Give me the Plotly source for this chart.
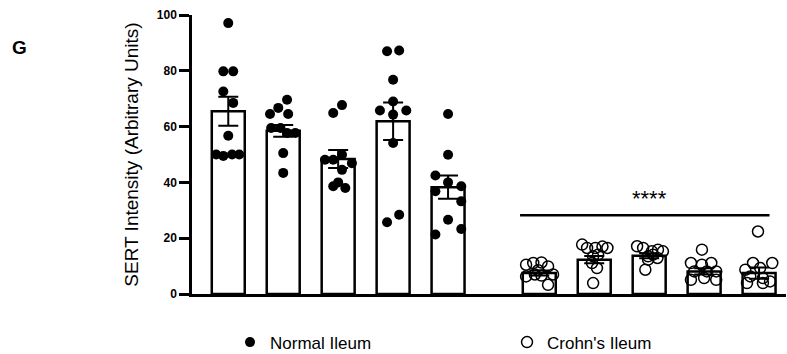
import plotly.graph_objects as go

# ---- data ----
normal_means = [65.5, 58.5, 48.4, 61.9, 38.3]
normal_sem = [5.2, 2.1, 3.2, 6.7, 4.2]
crohn_means = [7.5, 12.3, 13.7, 8.1, 7.5]
crohn_sem = [0.9, 1.3, 0.9, 1.1, 2.0]

normal_points = [
    [97.1, 79.8, 79.8, 72.6, 68.5, 56.7, 50.0, 49.5, 50.0, 50.0],
    [69.6, 66.7, 64.5, 64.5, 59.5, 59.5, 57.7, 57.7, 50.5, 43.4],
    [67.7, 64.9, 49.9, 48.1, 48.1, 46.9, 44.5, 40.0, 38.6, 38.0],
    [87.0, 87.3, 76.8, 69.0, 65.8, 65.8, 64.3, 54.1, 25.7, 28.4],
    [64.5, 49.9, 42.5, 40.0, 36.8, 38.6, 33.2, 26.6, 21.3, 23.3],
]
crohn_points = [
    [10.5, 11.1, 11.3, 9.9, 6.3, 7.0, 6.6, 3.3, 7.0, 8.5],
    [17.7, 16.5, 16.5, 17.0, 16.5, 13.5, 14.1, 11.1, 9.3, 3.9],
    [17.1, 16.5, 15.3, 15.9, 15.3, 14.1, 13.5, 12.9, 12.3, 8.7],
    [15.9, 11.1, 10.5, 11.1, 8.1, 8.1, 8.1, 5.1, 5.7, 5.1],
    [22.4, 11.1, 11.1, 8.7, 9.3, 6.3, 5.7, 4.5, 3.9, 3.9],
]
significance = "****"
sig_level = 28.2
y_title = "SERT Intensity (Arbitrary Units)"
legend_names = ["Normal Ileum", "Crohn's Ileum"]
y_ticks = [0, 20, 40, 60, 80, 100]

# ---- layout (positions / jitter, not data) ----
normal_pos = [0, 1, 2, 3, 4]
crohn_pos = [5.66 + i for i in range(5)]
normal_jitter = [
    [0.0, -0.09, 0.09, -0.09, 0.09, 0.0, -0.22, -0.09, 0.07, 0.2],
    [0.07, -0.09, -0.24, 0.09, -0.22, -0.05, 0.07, 0.22, 0.0, 0.0],
    [0.07, -0.09, 0.07, -0.09, -0.24, 0.25, 0.07, 0.0, -0.09, 0.13],
    [-0.11, 0.11, 0.0, 0.0, -0.24, 0.24, 0.0, 0.0, -0.11, 0.11],
    [0.0, 0.0, -0.23, 0.0, -0.23, 0.24, 0.24, 0.0, -0.23, 0.24],
]
crohn_jitter = [
    [-0.24, -0.11, 0.04, 0.16, -0.24, -0.08, 0.04, 0.16, 0.25, -0.02],
    [-0.22, -0.13, 0.02, 0.15, 0.24, -0.02, 0.07, -0.04, 0.05, -0.02],
    [-0.22, -0.11, 0.05, 0.16, 0.25, 0.07, -0.02, 0.15, -0.02, -0.07],
    [-0.04, -0.24, -0.04, 0.13, -0.18, 0.05, 0.22, -0.24, 0.0, 0.22],
    [-0.02, -0.11, 0.24, -0.25, 0.02, -0.16, 0.07, 0.2, -0.22, 0.07],
]

FONT = "Liberation Sans, Arial, sans-serif"
fig = go.Figure()

bar_style = dict(
    marker=dict(color="white", line=dict(color="black", width=2.5)),
    width=0.6,
    showlegend=False,
    hoverinfo="skip",
)
err_style = dict(type="data", color="black", thickness=2, width=10, visible=True)

fig.add_trace(go.Bar(x=normal_pos, y=normal_means,
                     error_y=dict(array=normal_sem, **err_style), **bar_style))
fig.add_trace(go.Bar(x=crohn_pos, y=crohn_means,
                     error_y=dict(array=crohn_sem, **err_style), **bar_style))

nx, ny = [], []
for p, pts, jit in zip(normal_pos, normal_points, normal_jitter):
    for v, j in zip(pts, jit):
        nx.append(p + j)
        ny.append(v)
cx, cy = [], []
for p, pts, jit in zip(crohn_pos, crohn_points, crohn_jitter):
    for v, j in zip(pts, jit):
        cx.append(p + j)
        cy.append(v)

fig.add_trace(go.Scatter(x=nx, y=ny, mode="markers", name=legend_names[0],
                         marker=dict(symbol="circle", size=10, color="black")))
fig.add_trace(go.Scatter(x=cx, y=cy, mode="markers", name=legend_names[1],
                         marker=dict(symbol="circle-open", size=11, color="black",
                                     line=dict(width=1.5, color="black"))))

# significance line and stars
fig.add_shape(type="line", xref="x", yref="y",
              x0=crohn_pos[0] - 0.35, x1=crohn_pos[-1] + 0.19,
              y0=sig_level, y1=sig_level,
              line=dict(color="black", width=2.5))
fig.add_annotation(x=sum(crohn_pos) / len(crohn_pos), y=sig_level, xref="x", yref="y",
                   text=significance, showarrow=False, yanchor="bottom",
                   font=dict(family=FONT, size=22, color="black"), yshift=2)

# panel letter
fig.add_annotation(x=-0.29, y=0.885, xref="paper", yref="paper", text="<b>G</b>",
                   showarrow=False, xanchor="center", yanchor="middle",
                   font=dict(family=FONT, size=19, color="black"))

fig.update_layout(
    width=787, height=354,
    margin=dict(l=192, r=1, t=15, b=60, autoexpand=False),
    plot_bgcolor="white", paper_bgcolor="white",
    barmode="overlay",
    font=dict(family=FONT, color="black"),
    xaxis=dict(range=[-0.66, 10.15], showline=True, linecolor="black", linewidth=2.5,
               showticklabels=False, ticks="", showgrid=False, zeroline=False),
    yaxis=dict(range=[0, 100], showline=True, linecolor="black", linewidth=2.5,
               tickvals=y_ticks, ticktext=[f"<b>{t}</b>" for t in y_ticks],
               ticks="outside", ticklen=10, tickwidth=2.5, tickcolor="black",
               tickfont=dict(family=FONT, size=12, color="black"),
               showgrid=False, zeroline=False,
               title=dict(text=y_title, font=dict(family=FONT, size=19, color="black"),
                          standoff=14)),
    legend=dict(orientation="h", x=0.064, y=-0.174, xanchor="left", yanchor="middle",
                entrywidth=232, entrywidthmode="pixels",
                font=dict(family=FONT, size=17, color="black"),
                bgcolor="rgba(0,0,0,0)"),
)

fig.write_html(
    "out.html",
    config={"displayModeBar": False},
    post_script="document.body.style.margin='0';document.body.style.overflow='hidden';",
)
